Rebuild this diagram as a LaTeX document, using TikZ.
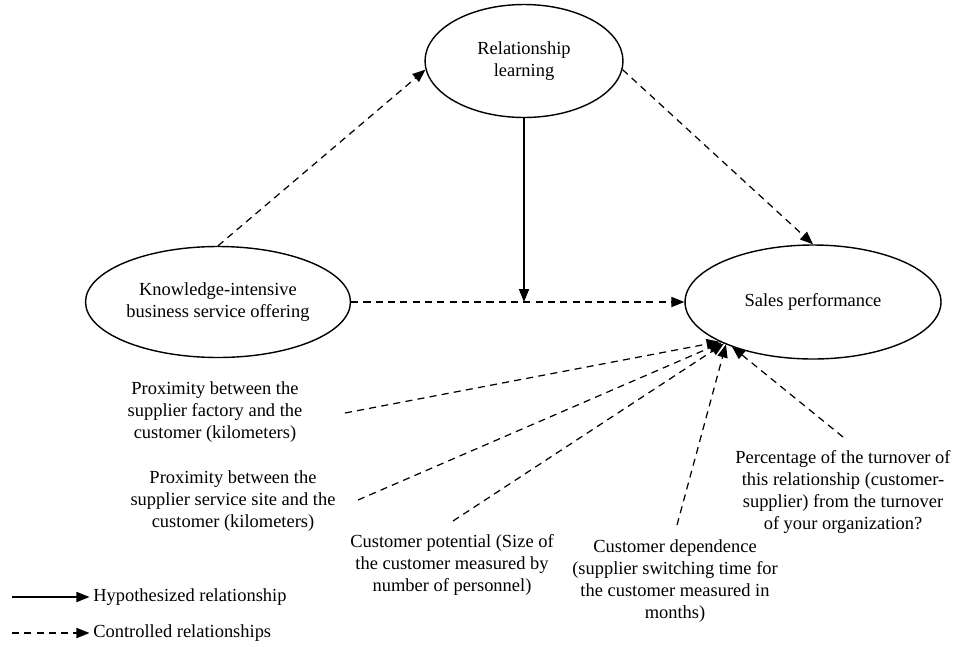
\documentclass[tikz,border=0pt]{standalone}
\usepackage{fontspec}
\setmainfont{Liberation Serif}
\usepackage{tikz}
\usetikzlibrary{shapes.geometric,arrows.meta}

\begin{document}
\begin{tikzpicture}[x=0.02cm, y=-0.02cm, >={Triangle[length=7.4pt,width=5.8pt]},
		font=\fontsize{10.5}{12.5}\selectfont,
		construct/.style={ellipse, draw, line width=0.8pt, inner sep=0pt, align=center},
		ctrltext/.style={align=center, inner sep=0pt},
		hyp/.style={->, line width=0.7pt},
		ctrl/.style={->, line width=0.7pt, dash pattern=on 4pt off 3pt}]
		\useasboundingbox (0,0) rectangle (955,646);
		\node[construct, minimum width=3.96cm, minimum height=2.26cm] (RL) at (524,61) {Relationship\\learning};
		\node[construct, minimum width=5.3cm, minimum height=2.22cm] (KIBS) at (218,302) {Knowledge-intensive\\business service offering};
		\node[construct, minimum width=5.12cm, minimum height=2.28cm] (SP) at (813,302) {Sales performance};
		\draw[ctrl] (KIBS.north) -- (RL.185);
		\draw[ctrl] (RL.355) -- (SP.north);
		\draw[ctrl] (KIBS.east) -- (SP.west);
		\draw[hyp] (RL.south) -- (RL.south |- KIBS.east);
		\node[ctrltext] (fac) at (215,412) {Proximity between the\\supplier factory and the\\customer (kilometers)};
		\node[ctrltext] (site) at (233,501) {Proximity between the\\supplier service site and the\\customer (kilometers)};
		\node[ctrltext] (pot) at (452,565) {Customer potential (Size of\\the customer measured by\\number of personnel)};
		\node[ctrltext] (dep) at (675,581) {Customer dependence\\(supplier switching time for\\the customer measured in\\months)};
		\node[ctrltext] (pct) at (843,492) {Percentage of the turnover of\\this relationship (customer-\\supplier) from the turnover\\of your organization?};
		\coordinate (fac0) at (345,413);
		\coordinate (site0) at (358,500);
		\coordinate (pot0) at (453,521);
		\coordinate (dep0) at (677,525);
		\coordinate (pct0) at (843,437);
		\draw[ctrl] (fac0) -- (SP.203);
		\draw[ctrl] (site0) -- (SP.204);
		\draw[ctrl] (pot0) -- (SP.205);
		\draw[ctrl] (dep0) -- (SP.206);
		\draw[ctrl] (pct0) -- (SP.209);
		\node[anchor=west, inner sep=0pt] (hyptext) at (93,597) {Hypothesized relationship};
		\node[anchor=west, inner sep=0pt] (ctltext) at (93,633) {Controlled relationships};
		\coordinate (leg1) at (12,597);
		\coordinate (leg2) at (12,633);
		\draw[hyp] (leg1) -- ([xshift=-2pt]hyptext.west);
		\draw[ctrl] (leg2) -- ([xshift=-2pt]ctltext.west);
	\end{tikzpicture}
\end{document}
